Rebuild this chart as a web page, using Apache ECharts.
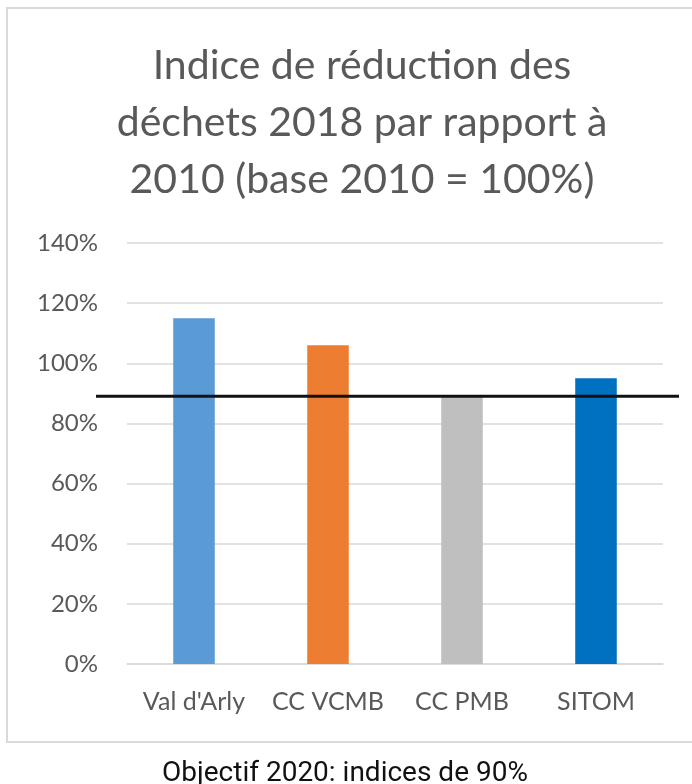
<!DOCTYPE html>
<html>
<head>
<meta charset="utf-8">
<title>Indice de réduction des déchets</title>
<script src="https://cdn.jsdelivr.net/npm/echarts@6/dist/echarts.min.js"></script>
<style>
  html, body { margin: 0; padding: 0; background: #fff; }
  #chart { width: 692px; height: 784px; }
</style>
</head>
<body>
<div id="chart"></div>
<script>
// données
const categories = ["Val d'Arly", "CC VCMB", "CC PMB", "SITOM"];
const indices = [115, 106, 89, 95];
const barColors = ["#5b9bd5", "#ed7d31", "#bfbfbf", "#0070c0"];
const objectif = 89;
const yTicks = [0, 140, 20]; // min, max, pas

const chart = echarts.init(document.getElementById("chart"));

const font = "Lato, 'Open Sans', sans-serif";

chart.setOption({
  animation: false,
  backgroundColor: "#fff",
  title: [
    {
      text: "Indice de réduction des\ndéchets 2018 par rapport à\n2010 (base 2010 = 100%)",
      left: 357,
      textAlign: "center",
      top: 32,
      textStyle: {
        fontFamily: font,
        fontSize: 41,
        fontWeight: "normal",
        lineHeight: 57,
        color: "#595959",
      },
    },
    {
      text: "Objectif 2020: indices de 90%",
      left: 340,
      textAlign: "center",
      top: 755,
      textStyle: {
        fontFamily: "Roboto, sans-serif",
        fontSize: 28,
        fontWeight: "normal",
        color: "#111",
      },
    },
  ],
  graphic: [
    {
      type: "rect",
      shape: { x: 7, y: 8, width: 700, height: 734 },
      style: { fill: "none", stroke: "#d9d9d9", lineWidth: 2 },
      z: -1,
    },
  ],
  grid: [
    { left: 127, right: 29, top: 243, bottom: 120 },
    // grille plus large pour la ligne d'objectif
    { left: 96, right: 13, top: 243, bottom: 120 },
  ],
  xAxis: [
    {
      type: "category",
      gridIndex: 0,
      data: categories,
      axisTick: { show: false },
      axisLine: { lineStyle: { color: "#d9d9d9", width: 1.5 } },
      axisLabel: {
        interval: 0,
        hideOverlap: false,
        margin: 25,
        fontFamily: font,
        fontSize: 25,
        color: "#595959",
      },
    },
    {
      type: "value",
      gridIndex: 1,
      min: 0,
      max: 1,
      show: false,
    },
  ],
  yAxis: [
    {
      type: "value",
      gridIndex: 0,
      min: yTicks[0],
      max: yTicks[1],
      interval: yTicks[2],
      axisLine: { show: false },
      axisTick: { show: false },
      splitLine: { lineStyle: { color: "#d9d9d9", width: 1.5 } },
      axisLabel: {
        formatter: "{value}%",
        margin: 29,
        fontFamily: font,
        fontSize: 24,
        color: "#595959",
      },
    },
    {
      type: "value",
      gridIndex: 1,
      min: yTicks[0],
      max: yTicks[1],
      show: false,
    },
  ],
  series: [
    {
      type: "bar",
      xAxisIndex: 0,
      yAxisIndex: 0,
      barWidth: "31%",
      data: indices.map((v, i) => ({ value: v, itemStyle: { color: barColors[i] } })),
    },
    {
      type: "line",
      xAxisIndex: 1,
      yAxisIndex: 1,
      symbol: "none",
      z: 10,
      lineStyle: { color: "#111", width: 3 },
      data: [
        [0, objectif],
        [1, objectif],
      ],
    },
  ],
});
</script>
</body>
</html>
